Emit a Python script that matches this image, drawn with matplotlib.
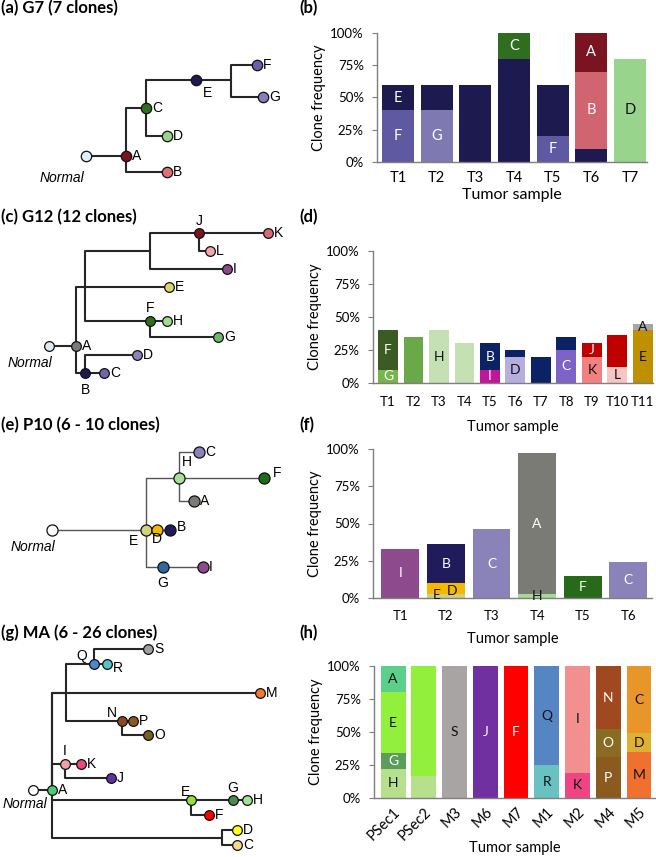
import matplotlib
matplotlib.use('Agg')
import matplotlib.pyplot as plt

W, H = 656, 857

plt.rcParams.update({
    'font.family': ['Lato', 'DejaVu Sans'],
    'font.size': 9,
    'axes.edgecolor': '#7f7f7f',
    'axes.linewidth': 1.0,
})

# ---------------- clone trees (layout units = px inside each panel) ----------------
TREE_A_NODES = ['Normal', 'A', 'B', 'C', 'D', 'E', '_1', 'F', 'G']
TREE_A_X = [86, 126, 167, 146, 167, 196, 231, 257, 263]
TREE_A_Y = [156, 156, 172, 108, 136, 80, 80, 65, 97]
TREE_A_PARENT = [None, 'Normal', 'A', 'A', 'C', 'C', 'E', '_1', '_1']
TREE_A_COLORS = ['#e2eef8', '#7b1421', '#e07078', '#2e6e1e', '#98d48c', '#1c1a4e',
                 None, '#6560a8', '#8580b8']

TREE_C_NODES = ['Normal', 'A', 'B', 'C', 'D', '_1', 'E', '_2', 'J', 'K', 'L', 'I',
                'F', 'H', 'G']
TREE_C_X = [49, 76, 85, 104, 137, 85, 169, 150, 199, 268, 210, 227, 150, 167, 218]
TREE_C_Y = [146, 146, 173, 173, 155, 87, 87, 51, 33, 33, 51, 69, 121, 121, 137]
TREE_C_PARENT = [None, 'Normal', 'A', 'B', 'B', 'A', '_1', '_1', '_2', 'J', 'J', '_2',
                 '_1', 'F', 'F']
TREE_C_COLORS = ['#dde8f0', '#7a7a7a', '#1c1a4e', '#6e68a8', '#8a84bb', None,
                 '#d8d470', None, '#7b1421', '#d86a70', '#f0a8b0', '#8a4a8a',
                 '#2e6e1e', '#a0dc90', '#6ab86a']

TREE_E_NODES = ['Normal', 'E', 'D', 'B', 'H', 'C', 'F', 'A', 'G', 'I']
TREE_E_X = [52, 146, 157, 170, 179, 199, 264, 194, 163, 203]
TREE_E_Y = [130, 130, 130, 130, 78, 52, 78, 101, 167, 167]
TREE_E_PARENT = [None, 'Normal', 'E', 'D', 'E', 'H', 'H', 'H', 'E', 'G']
TREE_E_COLORS = ['#ffffff', '#d4d27a', '#f5b800', '#201c5c', '#a8e098', '#8983b9',
                 '#1e6b1a', '#7b7b75', '#2e6aa0', '#8d4a8c']

TREE_G_NODES = ['Normal', 'A', 'M', '_1', 'Q', 'R', 'S', 'N', 'P', 'O', 'I', 'K',
                'J', 'E', 'G', 'H', 'F', '_2', 'D', 'C']
TREE_G_X = [33, 52, 260, 66, 94, 107, 148, 122, 133, 148, 65, 81, 111, 191, 233,
            247, 209, 222, 237, 237]
TREE_G_Y = [190, 190, 93, 93, 64, 64, 49, 121, 121, 135, 164, 164, 178, 200, 200,
            200, 215, 238, 230, 245]
TREE_G_PARENT = [None, 'Normal', 'A', 'A', '_1', 'Q', 'Q', '_1', 'N', 'N', 'A', 'I',
                 'I', 'A', 'E', 'G', 'E', 'A', '_2', '_2']
TREE_G_COLORS = ['#ffffff', '#50c878', '#f07a30', None, '#4a88c8', '#58c0c8',
                 '#a0a0a0', '#8b4a1e', '#8b5a1e', '#7a6020', '#f0a0a8', '#e84a7a',
                 '#6030a0', '#90e040', '#4a8a4a', '#a8e098', '#ff0000', None,
                 '#ffff20', '#f5d890']

# ---------------- clone frequencies (%) stacked bottom -> top ----------------
# each segment: (clone, share, show label)
B_SAMPLES = ['T1', 'T2', 'T3', 'T4', 'T5', 'T6', 'T7']
B_STACKS = [
    [('F', 40, True), ('E', 20, True)],
    [('G', 40, True), ('E', 20, False)],
    [('E', 60, False)],
    [('E', 80, False), ('C', 20, True)],
    [('F', 20, True), ('E', 40, False)],
    [('E', 10, False), ('B', 60, True), ('A', 30, True)],
    [('D', 80, True)],
]
B_COLORS = {'A': '#7b1421', 'B': '#d1656f', 'C': '#2e6e1e', 'D': '#98d48c',
            'E': '#1c1a4e', 'F': '#5e59a0', 'G': '#7e79b0'}
B_DARK_TEXT = ['D']

D_SAMPLES = ['T1', 'T2', 'T3', 'T4', 'T5', 'T6', 'T7', 'T8', 'T9', 'T10', 'T11']
D_STACKS = [
    [('G', 10, True), ('F', 30, True)],
    [('G2', 35, False)],
    [('H', 40, True)],
    [('H', 30, False)],
    [('I', 10, True), ('B', 20, True)],
    [('D', 20, True), ('B', 5, False)],
    [('B', 20, False)],
    [('C', 25, True), ('B', 10, False)],
    [('K', 20, True), ('J', 10, True)],
    [('L', 12, True), ('J', 24, False)],
    [('E', 40, True), ('A', 5, True)],
]
D_COLORS = {'A': '#a6a6a6', 'B': '#0b2265', 'C': '#7d62c8', 'D': '#b7aee0',
            'E': '#bf9000', 'F': '#3c5a24', 'G': '#76b64c', 'G2': '#6aa84a',
            'H': '#c5e0b3', 'I': '#c0169a', 'J': '#c00000', 'K': '#f28080',
            'L': '#f8c5c5'}
D_DARK_TEXT = ['A', 'D', 'E', 'H', 'K', 'L']

F_SAMPLES = ['T1', 'T2', 'T3', 'T4', 'T5', 'T6']
F_STACKS = [
    [('I', 33, True)],
    [('E', 3, True), ('D', 7, True), ('B', 26, True)],
    [('C', 46, True)],
    [('H', 3, True), ('A', 94, True)],
    [('F', 15, True)],
    [('C', 24, True)],
]
F_COLORS = {'A': '#7b7b75', 'B': '#201c5c', 'C': '#8983b9', 'D': '#f5b800',
            'E': '#d3cf78', 'F': '#276b1a', 'H': '#a3d993', 'I': '#8d4a8c'}
F_DARK_TEXT = ['D', 'E', 'H']
# small-segment labels pushed sideways so they do not overlap
F_NUDGE = {(1, 'E'): (-0.2, 0.5), (1, 'D'): (0.14, -1.5)}

H_SAMPLES = ['PSec1', 'PSec2', 'M3', 'M6', 'M7', 'M1', 'M2', 'M4', 'M5']
H_STACKS = [
    [('H', 22, True), ('G', 12, True), ('E', 46, True), ('A', 20, True)],
    [('H', 17, False), ('E', 83, False)],
    [('S', 100, True)],
    [('J', 100, True)],
    [('F', 100, True)],
    [('R', 25, True), ('Q', 75, True)],
    [('K', 19, True), ('I', 81, True)],
    [('P', 31, True), ('O', 21, True), ('N', 48, True)],
    [('M', 35, True), ('D', 14, True), ('C', 51, True)],
]
H_COLORS = {'A': '#5ccf8a', 'C': '#e8962a', 'D': '#e0b030', 'E': '#92f03c',
            'F': '#ff0000', 'G': '#5a9e5a', 'H': '#b6e08c', 'I': '#f29090',
            'J': '#7030a0', 'K': '#f04584', 'M': '#f07030', 'N': '#a04820',
            'O': '#8a6b22', 'P': '#8b5a1e', 'Q': '#5585c3', 'R': '#68c2c2',
            'S': '#a8a4a4'}
H_DARK_TEXT = ['A', 'C', 'D', 'E', 'H', 'I', 'K', 'M', 'Q', 'R', 'S']

TICKS = [0, 25, 50, 75, 100]


def px_rect(l, t, r, b):
    return [l / W, 1 - b / H, (r - l) / W, (b - t) / H]


fig = plt.figure(figsize=(W / 100, H / 100), dpi=100)


def draw_tree(top, height, nodes, xs, ys, parents, colors, label_off, normal_xy,
              lw=1.5, line_color='#262626', ms=7):
    ax = fig.add_axes(px_rect(0, top, 310, top + height))
    ax.set_xlim(0, 310)
    ax.set_ylim(height, 0)
    ax.axis('off')
    pos = {n: (x, y) for n, x, y in zip(nodes, xs, ys)}
    for n, p in zip(nodes, parents):
        if p is None:
            continue
        px, py = pos[p]
        cx, cy = pos[n]
        ax.plot([px, px, cx], [py, cy, cy], color=line_color, lw=lw,
                solid_capstyle='butt', zorder=1)
    for n, c in zip(nodes, colors):
        if c is None:
            continue
        x, y = pos[n]
        ax.plot(x, y, 'o', ms=ms, mfc=c, mec='#111111', mew=0.9, zorder=3)
        if n == 'Normal':
            continue
        if n in label_off:
            dx, dy = label_off[n]
            ax.text(x + dx, y + dy, n, ha='center', va='center', fontsize=10,
                    family='Liberation Sans', zorder=4)
        else:
            ax.text(x + 6, y, n, ha='left', va='center', fontsize=10,
                    family='Liberation Sans', zorder=4)
    ax.text(normal_xy[0], normal_xy[1], 'Normal', ha='center', va='center',
            fontsize=10, style='italic', family='Liberation Sans')


def draw_bars(rect, samples, stacks, colors, dark, width, xlim, xlab_px,
              rotate=False, label_size=10, xtick_size=9.5, xlab_size=10.5,
              xtick_pad=9, nudge=None):
    nudge = nudge or {}
    l, t, r, b = rect
    ax = fig.add_axes(px_rect(l, t, r, b))
    for i, stack in enumerate(stacks):
        cum = 0
        for clone, share, show in stack:
            ax.bar(i, share, bottom=cum, width=width, color=colors[clone],
                   linewidth=0, zorder=2)
            if show:
                dx, dy = nudge.get((i, clone), (0, 0))
                ax.text(i + dx, cum + share / 2 + dy, clone[0], ha='center',
                        va='center', fontsize=label_size,
                        color='#111111' if clone in dark else 'white', zorder=3)
            cum += share
    ax.set_xlim(*xlim)
    ax.set_ylim(0, 100)
    ax.set_yticks(TICKS)
    ax.set_yticklabels([f'{v}%' for v in TICKS])
    ax.set_xticks(range(len(samples)))
    for s in ['top', 'right']:
        ax.spines[s].set_visible(False)
    ax.tick_params(axis='y', length=3.5, color='#7f7f7f', pad=6, labelsize=9.5)
    if rotate:
        ax.set_xticklabels(samples, rotation=45, ha='right', rotation_mode='anchor')
        ax.tick_params(axis='x', length=0, pad=5, labelsize=xtick_size)
    else:
        ax.set_xticklabels(samples)
        ax.tick_params(axis='x', length=0, pad=xtick_pad, labelsize=xtick_size)
    ax.set_ylabel('Clone frequency', fontsize=10.5)
    ax.yaxis.set_label_coords(-51 / (r - l), 0.5)
    ax.set_xlabel('Tumor sample', fontsize=xlab_size)
    ax.xaxis.label.set_va('center')
    ax.xaxis.set_label_coords(0.5, -xlab_px / (b - t))
    return ax


# trees
draw_tree(0, 200, TREE_A_NODES, TREE_A_X, TREE_A_Y, TREE_A_PARENT, TREE_A_COLORS,
          {'E': (11, 13)}, (62, 178), ms=7.5)
draw_tree(200, 200, TREE_C_NODES, TREE_C_X, TREE_C_Y, TREE_C_PARENT, TREE_C_COLORS,
          {'J': (0, -12), 'F': (0, -13), 'B': (0, 17)}, (30, 163))
draw_tree(400, 200, TREE_E_NODES, TREE_E_X, TREE_E_Y, TREE_E_PARENT, TREE_E_COLORS,
          {'H': (8, -16), 'E': (-13, 11), 'D': (0, 9), 'B': (11, -3), 'F': (13, -5),
           'G': (0, 16)}, (33, 147), lw=1.0, line_color='#555555', ms=8)
draw_tree(600, 257, TREE_G_NODES, TREE_G_X, TREE_G_Y, TREE_G_PARENT, TREE_G_COLORS,
          {'Q': (-12, -8), 'R': (11, 4), 'N': (-10, -8), 'I': (0, -13),
           'E': (-6, -8), 'G': (0, -12)}, (25, 204))

# bar panels
draw_bars((377, 33, 647, 162), B_SAMPLES, B_STACKS, B_COLORS, B_DARK_TEXT,
          0.83, (-0.54, 6.44), 33, label_size=10.5, xtick_size=10.5, xlab_size=11.5,
          xtick_pad=6.5)
draw_bars((373, 251, 653, 383), D_SAMPLES, D_STACKS, D_COLORS, D_DARK_TEXT,
          0.78, (-0.59, 10.4), 44)
draw_bars((373, 449, 652, 598), F_SAMPLES, F_STACKS, F_COLORS, F_DARK_TEXT,
          0.83, (-0.6, 5.52), 41, nudge=F_NUDGE)
draw_bars((374, 666, 655, 798), H_SAMPLES, H_STACKS, H_COLORS, H_DARK_TEXT,
          0.81, (-0.62, 8.52), 50, rotate=True, xtick_size=10.5)

# panel titles
TITLES = [('(a) G7 (7 clones)', 8), ('(c) G12 (12 clones)', 217),
          ('(e) P10 (6 - 10 clones)', 425), ('(g) MA (6 - 26 clones)', 633)]
for txt, y in TITLES:
    fig.text(1 / W, 1 - y / H, txt, ha='left', va='center', fontsize=12,
             fontweight='bold')
for txt, y in [('(b)', 8), ('(d)', 217), ('(f)', 425), ('(h)', 633)]:
    fig.text(299 / W, 1 - y / H, txt, ha='left', va='center', fontsize=12,
             fontweight='bold')

fig.savefig('out.png', dpi=100, facecolor='white')
